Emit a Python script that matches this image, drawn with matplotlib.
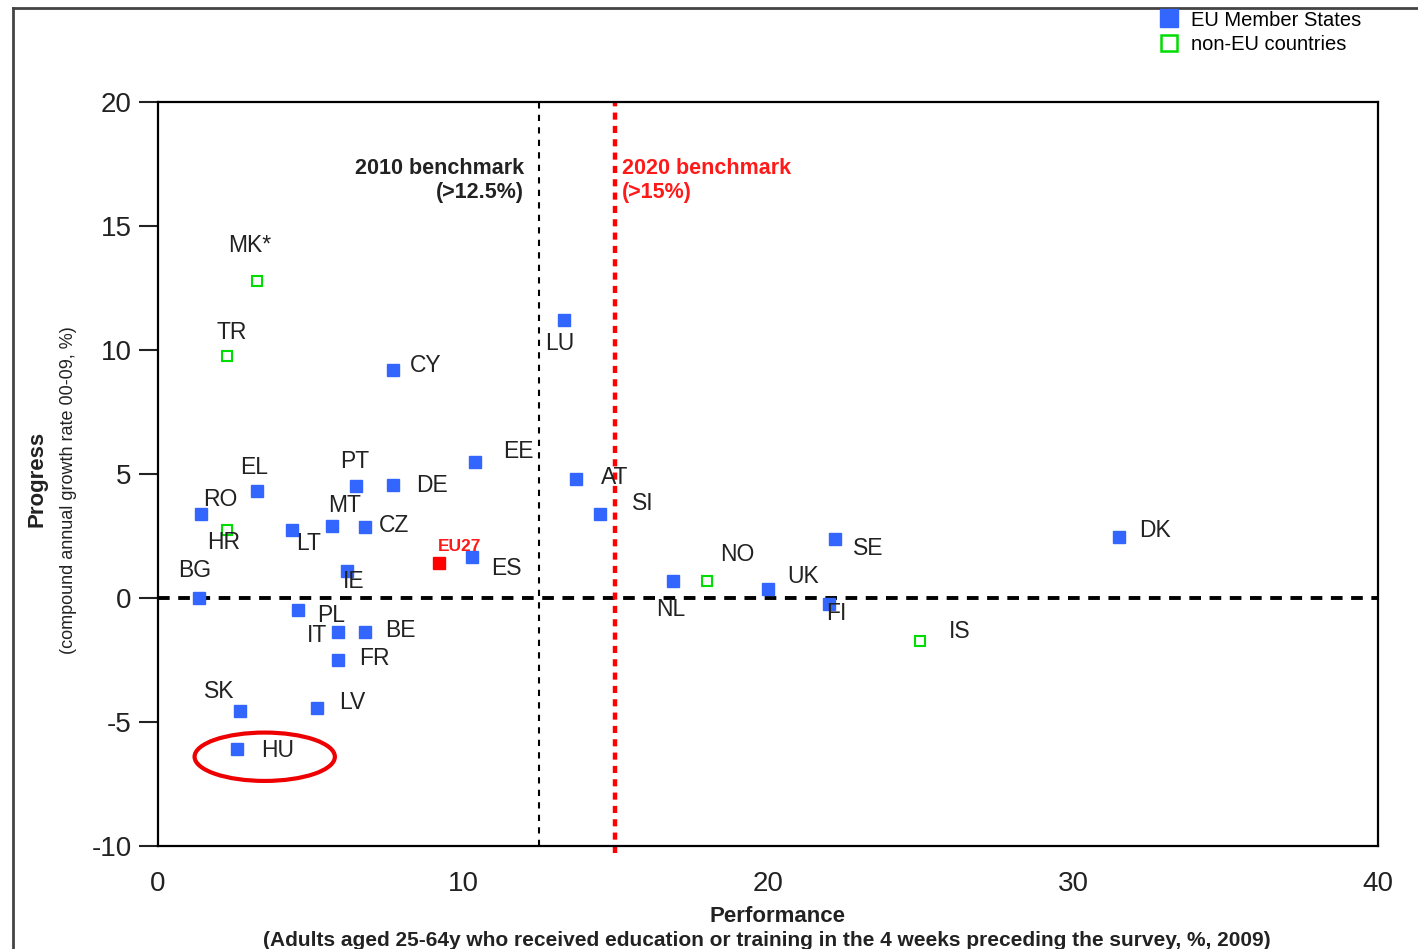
import matplotlib.pyplot as plt
from matplotlib.lines import Line2D
from matplotlib.patches import Ellipse

plt.rcParams['font.family'] = ['Liberation Sans', 'DejaVu Sans']
plt.rcParams['axes.unicode_minus'] = False

# EU member states: performance (x) and progress (y)
eu_names = ["CY", "LU", "EE", "AT", "SI", "PT", "DE", "EL", "RO", "LT", "MT", "CZ",
            "ES", "IE", "BG", "PL", "IT", "BE", "FR", "SK", "LV", "HU", "NL", "UK",
            "SE", "FI", "DK"]
eu_perf = [7.7, 13.3, 10.4, 13.7, 14.5, 6.5, 7.7, 3.25, 1.4, 4.4, 5.7, 6.8,
           10.3, 6.2, 1.35, 4.6, 5.9, 6.8, 5.9, 2.7, 5.2, 2.6, 16.9, 20.0,
           22.2, 22.0, 31.5]
eu_prog = [9.2, 11.2, 5.5, 4.8, 3.4, 4.5, 4.55, 4.3, 3.4, 2.75, 2.9, 2.85,
           1.65, 1.1, 0.0, -0.5, -1.35, -1.35, -2.5, -4.55, -4.45, -6.1, 0.7, 0.35,
           2.4, -0.25, 2.45]

# non-EU countries
non_names = ["MK*", "TR", "HR", "NO", "IS"]
non_perf = [3.25, 2.25, 2.25, 18.0, 25.0]
non_prog = [12.8, 9.75, 2.75, 0.7, -1.75]

eu27_perf = 9.2
eu27_prog = 1.4

bench_2010 = 12.5
bench_2020 = 15

# label offsets in points (dx, dy) from the marker
offsets = {
    "MK*": (-5, 25), "TR": (4, 17), "CY": (24, 3), "LU": (-3, -17), "EE": (31, 7),
    "AT": (28, 1), "SI": (31, 7), "PT": (-1, 18), "DE": (28, 0), "EL": (-2, 17),
    "RO": (14, 10), "HR": (-2, -9), "LT": (12, -10), "MT": (9, 15), "CZ": (21, 1),
    "ES": (25, -8), "IE": (5, -8), "BG": (-3, 20), "PL": (24, -4), "IT": (-15, -3),
    "BE": (25, 1), "FR": (26, 1), "SK": (-15, 14), "LV": (26, 4), "HU": (29, -1),
    "NL": (-2, -21), "NO": (22, 19), "UK": (25, 9), "SE": (24, -7), "FI": (5, -7),
    "DK": (26, 5), "IS": (28, 7),
}

fig = plt.figure(figsize=(14.18, 9.49), dpi=100)
ax = fig.add_axes([0.1114, 0.1085, 0.8604, 0.784])

blue = "#3366ff"
green = "#00dd00"

ax.axhline(0, color="black", lw=2.8, ls=(0, (3, 2.2)), zorder=1)
ax.axvline(bench_2010, color="black", lw=1.5, ls=(0, (3, 3)), zorder=1)
ax.axvline(bench_2020, color="#ff0000", lw=3.2, ls=(0, (1.6, 1.4)), zorder=1,
           ymin=-0.01, ymax=1.002, clip_on=False)

ax.plot(eu_perf, eu_prog, ls="none", marker="s", ms=8.5, color=blue, mec=blue, zorder=3)
ax.plot(non_perf, non_prog, ls="none", marker="s", ms=7, mfc="white", mec=green,
        mew=1.5, zorder=3)
ax.plot([eu27_perf], [eu27_prog], ls="none", marker="s", ms=8.5, color="#ff0000", zorder=3)

for n, x, y in zip(eu_names + non_names, eu_perf + non_perf, eu_prog + non_prog):
    dx, dy = offsets[n]
    ax.annotate(n, (x, y), xytext=(dx, dy), textcoords="offset points",
                ha="center", va="center", fontsize=16.5, color="#222222")

ax.annotate("EU27", (eu27_perf, eu27_prog), xytext=(15, 12), textcoords="offset points",
            ha="center", va="center", fontsize=12.5, fontweight="bold", color="#ff1a1a")

ax.add_patch(Ellipse((3.5, -6.4), 4.6, 1.95, fill=False, ec="#ee0000", lw=3, zorder=4))

ax.text(bench_2010 - 0.5, 16.85, "2010 benchmark\n(>12.5%)", ha="right", va="center",
        fontsize=15.5, fontweight="bold", color="#222222", linespacing=1.2)
ax.text(bench_2020 + 0.2, 16.85, "2020 benchmark\n(>15%)", ha="left", va="center",
        fontsize=15.5, fontweight="bold", color="#ff1a1a", linespacing=1.2)

ax.set_xlim(0, 40)
ax.set_ylim(-10, 20)
ax.set_xticks([0, 10, 20, 30, 40])
ax.set_yticks([-10, -5, 0, 5, 10, 15, 20])
ax.tick_params(axis="x", length=0, pad=18, labelsize=20, colors="#222222")
ax.tick_params(axis="y", length=14, width=1.5, pad=5, labelsize=20, colors="#222222")
for s in ax.spines.values():
    s.set_linewidth(1.6)
    s.set_color("black")

fig.text(0.548, 0.034, "Performance", ha="center", va="center", fontsize=16,
         fontweight="bold", color="#222222")
fig.text(0.541, 0.009, "(Adults aged 25-64y who received education or training in the 4 weeks "
         "preceding the survey, %, 2009)", ha="center", va="center", fontsize=15,
         fontweight="bold", color="#222222")
fig.text(0.026, 0.495, "Progress", rotation=90, ha="center", va="center", fontsize=16,
         fontweight="bold", color="#222222")
fig.text(0.048, 0.484, "(compound annual growth rate 00-09, %)", rotation=90, ha="center",
         va="center", fontsize=13, color="#222222")

# legend
handles = [Line2D([], [], ls="none", marker="s", ms=13, color=blue),
           Line2D([], [], ls="none", marker="s", ms=12, mfc="white", mec=green, mew=1.8)]
fig.legend(handles, ["EU Member States", "non-EU countries"], loc="upper left",
           bbox_to_anchor=(0.803, 1.008), frameon=False, fontsize=14.5,
           handletextpad=0.5, labelspacing=0.25, handlelength=1.2)

# outer frame
fig.add_artist(Line2D([13 / 1418, 13 / 1418], [0, 1 - 8 / 949], color="#444444", lw=2))
fig.add_artist(Line2D([13 / 1418, 1], [1 - 8 / 949, 1 - 8 / 949], color="#444444", lw=2))

fig.savefig("out.png", dpi=100)
